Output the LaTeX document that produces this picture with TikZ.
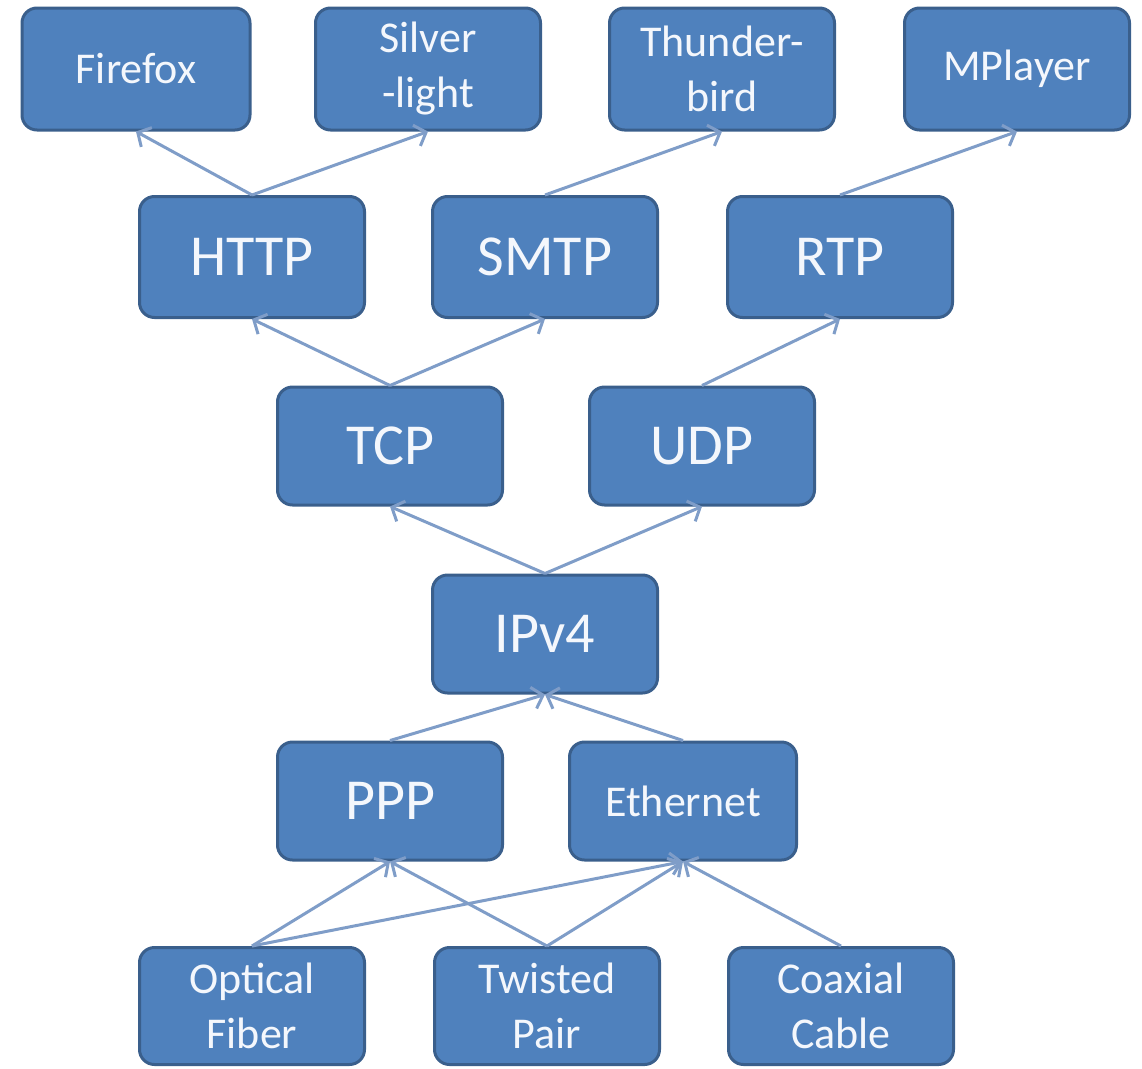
\documentclass[tikz,border=0pt]{standalone}
\usepackage{fontspec}
\setmainfont{Carlito}
\usetikzlibrary{arrows.meta}
\definecolor{boxfill}{HTML}{4F81BD}
\definecolor{boxline}{HTML}{3A5F8C}
\definecolor{arrowcol}{HTML}{7F9DC8}
\definecolor{txtcol}{HTML}{F4F7FC}
\tikzset{
  box/.style={rectangle, rounded corners=15pt, draw=boxline, line width=3pt,
    fill=boxfill, text=txtcol, minimum width=225pt, minimum height=120pt,
    inner sep=0pt, align=center},
  big/.style={box, font=\fontsize{58}{66}\selectfont},
  small/.style={box, font=\fontsize{44}{55}\selectfont},
  conn/.style={draw=arrowcol, line width=3pt, -{Straight Barb[length=10pt,width=22pt]}}
}
\begin{document}
\begin{tikzpicture}[x=1pt,y=-1pt]
\useasboundingbox (0,0) rectangle (1142,1068);
% top row
\node[small, minimum width=228pt, minimum height=122pt] (firefox) at (136,69) {Firefox};
\node[small, minimum height=122pt] (silver) at (428,69) {Silver\\-light};
\node[small, minimum height=122pt] (thunder) at (722,69) {Thunder-\\bird};
\node[small, minimum height=122pt] (mplayer) at (1017,69) {MPlayer};
% application protocols
\node[big, minimum height=121pt] (http) at (252,257) {HTTP};
\node[big, minimum height=121pt] (smtp) at (545,257) {SMTP};
\node[big, minimum height=121pt] (rtp) at (840,257) {RTP};
% transport
\node[big, minimum height=118pt] (tcp) at (390,446) {TCP};
\node[big, minimum height=118pt] (udp) at (702,446) {UDP};
% network
\node[big, minimum height=118pt] (ipv4) at (545,634) {IPv4};
% link
\node[big, minimum height=118pt] (ppp) at (390,801) {PPP};
\node[small, minimum width=227pt, minimum height=118pt] (eth) at (683,801) {Ethernet};
% physical
\node[small, minimum height=117pt] (fiber) at (252,1006) {Optical\\Fiber};
\node[small, minimum height=117pt] (twisted) at (547,1006) {Twisted\\Pair};
\node[small, minimum height=117pt] (coax) at (841,1006) {Coaxial\\Cable};
% connectors
\draw[conn] (http.north) -- (firefox.south);
\draw[conn] (http.north) -- (silver.south);
\draw[conn] (smtp.north) -- (thunder.south);
\draw[conn] (rtp.north) -- (mplayer.south);
\draw[conn] (tcp.north) -- (http.south);
\draw[conn] (tcp.north) -- (smtp.south);
\draw[conn] (udp.north) -- (rtp.south);
\draw[conn] (ipv4.north) -- (tcp.south);
\draw[conn] (ipv4.north) -- (udp.south);
\draw[conn] (ppp.north) -- (ipv4.south);
\draw[conn] (eth.north) -- (ipv4.south);
\draw[conn] (fiber.north) -- (ppp.south);
\draw[conn] (fiber.north) -- (eth.south);
\draw[conn] (twisted.north) -- (ppp.south);
\draw[conn] (twisted.north) -- (eth.south);
\draw[conn] (coax.north) -- (eth.south);
\end{tikzpicture}
\end{document}
